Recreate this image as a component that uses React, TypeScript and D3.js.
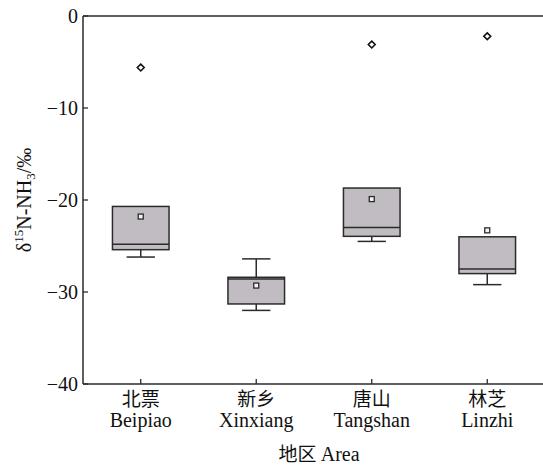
import React from 'react';
import * as d3 from 'd3';

// categories
const areasCn = ['北票', '新乡', '唐山', '林芝'];
const areasEn = ['Beipiao', 'Xinxiang', 'Tangshan', 'Linzhi'];

// box statistics (‰)
const whiskerLow = [-26.2, -32.0, -24.5, -29.2];
const q1 = [-25.4, -31.3, -23.95, -28.0];
const median = [-24.8, -28.6, -23.0, -27.5];
const q3 = [-20.7, -28.4, -18.7, -24.0];
const whiskerHigh = [-20.7, -26.4, -18.7, -24.0];
const means = [-21.8, -29.3, -19.9, -23.3];
const outliers = [-5.6, null, -3.1, -2.2];

const yTicks = [0, -10, -20, -30, -40];

const W = 543;
const H = 466;
const margin = { top: 16, right: -2, bottom: 82, left: 83 };

const App = () => {
  const x = d3.scaleBand<string>()
    .domain(areasEn)
    .range([margin.left, W - margin.right]);
  const y = d3.scaleLinear()
    .domain([-40, 0])
    .range([H - margin.bottom, margin.top]);

  const bw = x.bandwidth() * 0.49;
  const capW = bw / 2;
  const serif = '"Liberation Serif", "Times New Roman", serif';
  const cjk = '"Noto Sans CJK SC", sans-serif';
  const ink = '#2b2b2b';
  const y0 = y(-40);

  return (
    <svg width={W} height={H} style={{ position: 'absolute', left: 0, top: 0, background: '#fff' }}>
      {/* boxes */}
      {areasEn.map((a, i) => {
        const cx = x(a)! + x.bandwidth() / 2;
        return (
          <g key={a}>
            <line x1={cx} x2={cx} y1={y(q1[i])} y2={y(whiskerLow[i])} stroke={ink} strokeWidth={1.5} />
            <line x1={cx - capW / 2} x2={cx + capW / 2} y1={y(whiskerLow[i])} y2={y(whiskerLow[i])} stroke={ink} strokeWidth={1.5} />
            {whiskerHigh[i] > q3[i] && (
              <>
                <line x1={cx} x2={cx} y1={y(q3[i])} y2={y(whiskerHigh[i])} stroke={ink} strokeWidth={1.5} />
                <line x1={cx - capW / 2} x2={cx + capW / 2} y1={y(whiskerHigh[i])} y2={y(whiskerHigh[i])} stroke={ink} strokeWidth={1.5} />
              </>
            )}
            <rect x={cx - bw / 2} y={y(q3[i])} width={bw} height={y(q1[i]) - y(q3[i])}
              fill="#c1bcc1" stroke={ink} strokeWidth={1.5} />
            <line x1={cx - bw / 2} x2={cx + bw / 2} y1={y(median[i])} y2={y(median[i])} stroke={ink} strokeWidth={1.5} />
            <rect x={cx - 2.5} y={y(means[i]) - 2.5} width={5} height={5} fill="#f4f4f4" stroke={ink} strokeWidth={1.3} />
            {outliers[i] !== null && (
              <path d={d3.symbol(d3.symbolDiamond2, 30)()!} transform={`translate(${cx},${y(outliers[i] as number)})`}
                fill="#fff" stroke="#111" strokeWidth={1.6} />
            )}
          </g>
        );
      })}

      {/* frame: left, top, bottom */}
      <line x1={margin.left} x2={margin.left} y1={margin.top} y2={y0} stroke={ink} strokeWidth={1.5} />
      <line x1={margin.left} x2={W} y1={margin.top} y2={margin.top} stroke={ink} strokeWidth={1.5} />
      <line x1={margin.left} x2={W} y1={y0} y2={y0} stroke={ink} strokeWidth={1.5} />

      {/* y ticks */}
      {yTicks.map(t => (
        <g key={t}>
          <line x1={margin.left} x2={margin.left + 5} y1={y(t)} y2={y(t)} stroke={ink} strokeWidth={1.3} />
          <text x={margin.left - 5} y={y(t)} dy="0.35em" textAnchor="end" fontFamily={serif} fontSize={20} fill="#111">
            {t < 0 ? '\u2212' + Math.abs(t) : t}
          </text>
        </g>
      ))}

      {/* x ticks and labels */}
      {areasEn.map((a, i) => {
        const cx = x(a)! + x.bandwidth() / 2;
        return (
          <g key={a}>
            <line x1={cx} x2={cx} y1={y0} y2={y0 - 5} stroke={ink} strokeWidth={1.3} />
            <text x={cx} y={406} textAnchor="middle" fontFamily={cjk} fontSize={19} fill="#111">{areasCn[i]}</text>
            <text x={cx} y={427} textAnchor="middle" fontFamily={serif} fontSize={20} fill="#111">{a}</text>
          </g>
        );
      })}

      {/* axis titles */}
      <text x={319} y={461} textAnchor="middle" fontSize={20} fill="#111">
        <tspan fontFamily={cjk} fontSize={19}>地区 </tspan>
        <tspan fontFamily={serif}>Area</tspan>
      </text>
      <text transform={`translate(31,${(margin.top + y0) / 2}) rotate(-90)`} textAnchor="middle"
        fontFamily={serif} fontSize={20} fill="#111">
        δ<tspan fontSize={13} dy={-8}>15</tspan>
        <tspan dy={8}>N-NH</tspan>
        <tspan fontSize={13} dy={4}>3</tspan>
        <tspan dy={-4}>/‰</tspan>
      </text>
    </svg>
  );
};

export default App;
